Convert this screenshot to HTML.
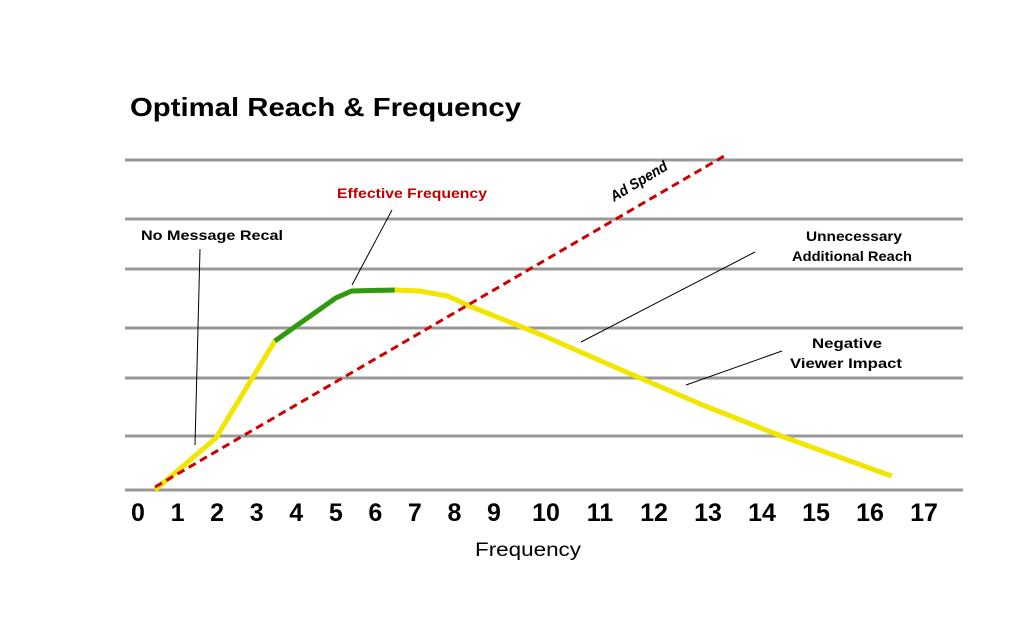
<!DOCTYPE html>
<html><head><meta charset="utf-8"><style>
html,body{margin:0;padding:0;background:#fff;}
svg{display:block;font-family:"Liberation Sans",sans-serif;}
</style></head><body>
<svg id="chart" width="1024" height="640" viewBox="0 0 1024 640" xmlns="http://www.w3.org/2000/svg">
<rect width="1024" height="640" fill="#fff"/>
<text x="130" y="116" font-size="26" font-weight="bold" textLength="391" lengthAdjust="spacingAndGlyphs">Optimal Reach &amp; Frequency</text>
<g id="grid"></g>
<g id="xticks"></g>
<text x="528" y="556" font-size="19" text-anchor="middle" textLength="106" lengthAdjust="spacingAndGlyphs">Frequency</text>
<g id="series"></g>
<g font-size="14" font-weight="bold">
<text x="141" y="240" textLength="142" lengthAdjust="spacingAndGlyphs">No Message Recal</text>
<line x1="200" y1="249" x2="195" y2="445" stroke="#000" stroke-width="1"/>
<text x="337" y="198" fill="#c00000" textLength="150" lengthAdjust="spacingAndGlyphs">Effective Frequency</text>
<line x1="392" y1="210" x2="352" y2="285" stroke="#000" stroke-width="1"/>
<text x="0" y="0" font-size="15" font-style="italic" transform="translate(614,202) rotate(-31)" textLength="64" lengthAdjust="spacingAndGlyphs">Ad Spend</text>
<text x="854" y="241" text-anchor="middle" textLength="96" lengthAdjust="spacingAndGlyphs">Unnecessary</text>
<text x="852" y="261" text-anchor="middle" textLength="120" lengthAdjust="spacingAndGlyphs">Additional Reach</text>
<line x1="755" y1="252" x2="581" y2="342" stroke="#000" stroke-width="1"/>
<text x="847" y="348" text-anchor="middle" textLength="70" lengthAdjust="spacingAndGlyphs">Negative</text>
<text x="846" y="368" text-anchor="middle" textLength="112" lengthAdjust="spacingAndGlyphs">Viewer Impact</text>
<line x1="782" y1="351" x2="686" y2="385" stroke="#000" stroke-width="1"/>
</g>
</svg>
<script>
const tickLabels = [0,1,2,3,4,5,6,7,8,9,10,11,12,13,14,15,16,17];
const gridValues = [0, 54, 112, 162, 221, 271, 330];
const reachX = [0.43,1.97,3.46,5.0,5.4,6.49,7.12,7.83,8.38,9.92,11.4,12.9,14.4,16.4];
const reachY = [0,52,149,192,199,200,199,194,184,155,120,85,53,14];
const effStart = 2, effEnd = 5;
const spendX = [0.43, 13.3];
const spendY = [3, 334];

const NS = "http://www.w3.org/2000/svg";
const xDom = [0, 9, 10, 17], xRng = [138, 494, 546, 924];
function xs(v){
  for (let i = 0; i < xDom.length - 1; i++) {
    if (v <= xDom[i+1] || i === xDom.length - 2) {
      return xRng[i] + (v - xDom[i]) / (xDom[i+1] - xDom[i]) * (xRng[i+1] - xRng[i]);
    }
  }
}
function ys(v){ return 490 - v; }
function mk(tag, attrs, parent){
  const e = document.createElementNS(NS, tag);
  for (const k in attrs) e.setAttribute(k, attrs[k]);
  parent.appendChild(e);
  return e;
}
const grid = document.getElementById('grid');
gridValues.forEach(g => {
  const l = mk('line', {x1:125, x2:963, y1:ys(g), y2:ys(g), stroke:'#999', 'stroke-width':3}, grid);
  
  
});
const xt = document.getElementById('xticks');
tickLabels.forEach(t => {
  const tx = mk('text', {x:xs(t), y:521, 'font-size':25, 'font-weight':'bold', 'text-anchor':'middle'}, xt);
  tx.textContent = t;
  
  
});
const s = document.getElementById('series');
const pts = reachX.map((x, i) => xs(x) + ',' + ys(reachY[i]));
const reach = mk('polyline', {points:pts.join(' '), fill:'none', stroke:'#f2e600', 'stroke-width':5, 'stroke-linejoin':'round'}, s);


const eff = mk('polyline', {points:pts.slice(effStart, effEnd + 1).join(' '), fill:'none', stroke:'#2e9a14', 'stroke-width':5, 'stroke-linejoin':'round'}, s);


const spend = mk('line', {x1:xs(spendX[0]), y1:ys(spendY[0]), x2:xs(spendX[1]), y2:ys(spendY[1]), stroke:'#d00000', 'stroke-width':3, 'stroke-dasharray':'8,5'}, s);


</script>
</body></html>
